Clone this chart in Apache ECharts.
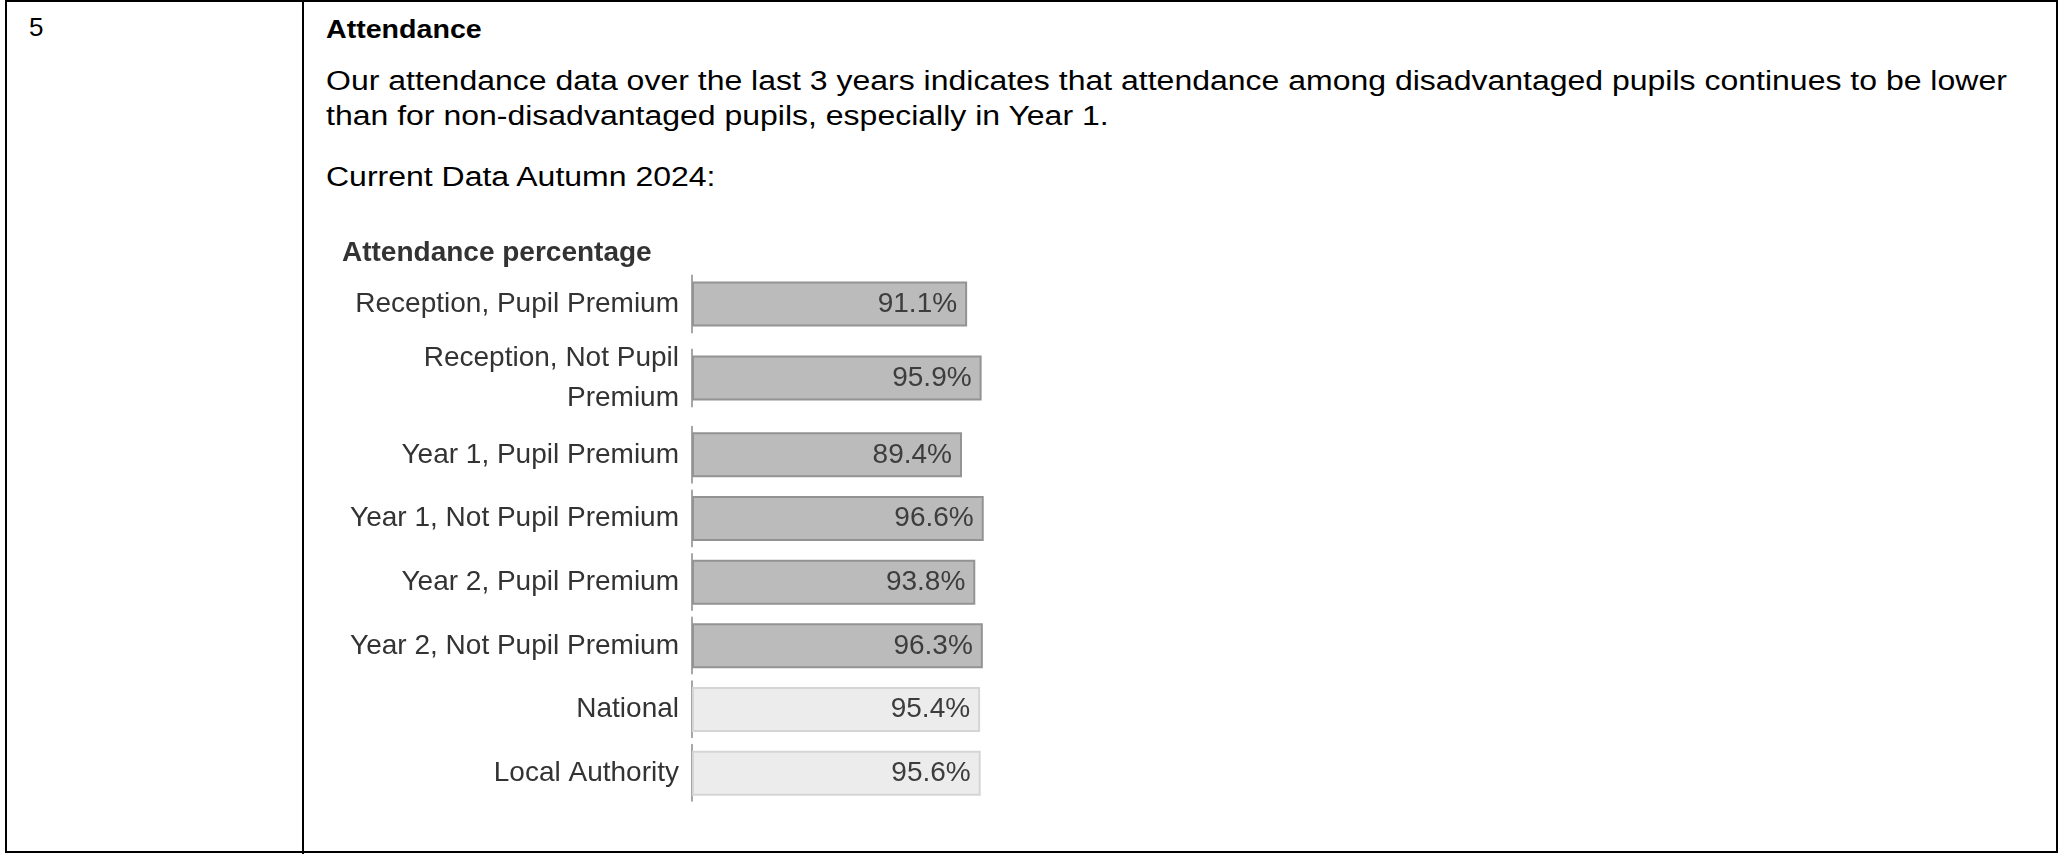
<!DOCTYPE html>
<html>
<head>
<meta charset="utf-8">
<script src="https://cdn.jsdelivr.net/npm/echarts@6/dist/echarts.min.js"></script>
<style>
    html, body {
        margin: 0;
        padding: 0;
        background: #fff;
    }
    #page {
        position: relative;
        width: 2060px;
        height: 854px;
        overflow: hidden;
        font-family: 'Liberation Sans', Arial, sans-serif;
        color: #000;
    }
    .frame {
        position: absolute;
        left: 5px;
        top: 0;
        width: 2049px;
        height: 849px;
        border: 2px solid #000;
    }
    .divider {
        position: absolute;
        left: 302px;
        top: 0;
        width: 2px;
        height: 854px;
        background: #000;
    }
    .txt {
        position: absolute;
        white-space: nowrap;
        height: 34px;
        line-height: 34px;
        transform-origin: left center;
    }
    .body {
        font-size: 27px;
        transform: scaleX(1.185);
    }
    #chart {
        position: absolute;
        left: 0;
        top: 0;
        width: 2060px;
        height: 854px;
    }
</style>
</head>
<body>
<div id="page">
    <div class="frame"></div>
    <div class="divider"></div>
    <div class="txt" style="left:29px;top:10px;font-size:26px;">5</div>
    <div class="txt" style="left:326px;top:12px;font-size:26px;font-weight:bold;transform:scaleX(1.1);">Attendance</div>
    <div class="txt body" style="left:326px;top:64px;">Our attendance data over the last 3 years indicates that attendance among disadvantaged pupils continues to be lower</div>
    <div class="txt body" style="left:326px;top:99px;">than for non-disadvantaged pupils, especially in Year 1.</div>
    <div class="txt body" style="left:326px;top:160px;">Current Data Autumn 2024:</div>
    <div id="chart"></div>
</div>
<script>
    // chart data
    const chartTitle = 'Attendance percentage'
    const categories = [
        'Reception, Pupil Premium',
        'Reception, Not Pupil Premium',
        'Year 1, Pupil Premium',
        'Year 1, Not Pupil Premium',
        'Year 2, Pupil Premium',
        'Year 2, Not Pupil Premium',
        'National',
        'Local Authority'
    ]
    const attendance = [91.1, 95.9, 89.4, 96.6, 93.8, 96.3, 95.4, 95.6]
    const benchmarks = ['National', 'Local Authority']

    // first two rows are taller (wrapped label), so they get their own grid
    const splitAt = 2

    function barData (from, to) {
        let arr = []
        for (let i = from; i < to; i++) {
            let light = benchmarks.indexOf(categories[i]) >= 0
            arr.push({
                value: attendance[i],
                itemStyle: {
                    color: light ? '#ececec' : '#bbbbbb',
                    borderColor: light ? '#d5d5d5' : '#939393',
                    borderWidth: 2
                }
            })
        }
        return arr
    }

    // long labels wrap before the last word
    function wrapLabel (value) {
        if (value.length > 26) {
            let k = value.lastIndexOf(' ')
            return value.slice(0, k) + '\n' + value.slice(k + 1)
        }
        return value
    }

    function yAxisFor (idx, from, to, dash, offset) {
        return {
            type: 'category',
            gridIndex: idx,
            inverse: true,
            data: categories.slice(from, to),
            axisTick: { show: false },
            axisLine: {
                lineStyle: {
                    color: '#a6a6a6',
                    width: 2,
                    type: dash,
                    dashOffset: offset
                }
            },
            axisLabel: {
                color: '#333',
                fontSize: 28,
                fontFamily: 'Liberation Sans, Arial, sans-serif',
                margin: 13,
                lineHeight: 40,
                formatter: wrapLabel
            }
        }
    }

    function xAxisFor (idx) {
        return {
            type: 'value',
            gridIndex: idx,
            min: 0,
            max: 100,
            show: false
        }
    }

    function seriesFor (idx, from, to) {
        return {
            type: 'bar',
            xAxisIndex: idx,
            yAxisIndex: idx,
            barWidth: 45,
            data: barData(from, to),
            label: {
                show: true,
                position: 'insideRight',
                distance: 10,
                formatter: '{c}%',
                color: '#3d3d3d',
                fontSize: 28,
                fontFamily: 'Liberation Sans, Arial, sans-serif'
            }
        }
    }

    let option = {
        animation: false,
        title: {
            text: chartTitle,
            left: 337,
            top: 234,
            textStyle: {
                color: '#333',
                fontSize: 28,
                fontWeight: 'bold',
                fontFamily: 'Liberation Sans, Arial, sans-serif'
            }
        },
        grid: [
            { left: 692, width: 302, top: 267, height: 148 },
            { left: 692, width: 302, top: 423, height: 382 }
        ],
        xAxis: [xAxisFor(0), xAxisFor(1)],
        yAxis: [
            yAxisFor(0, 0, splitAt, [57, 17], 65.5),
            yAxisFor(1, splitAt, categories.length, [56, 7.6], 59.8)
        ],
        series: [
            seriesFor(0, 0, splitAt),
            seriesFor(1, splitAt, categories.length)
        ]
    }

    let myChart = echarts.init(document.getElementById('chart'))
    myChart.setOption(option)
</script>
</body>
</html>
